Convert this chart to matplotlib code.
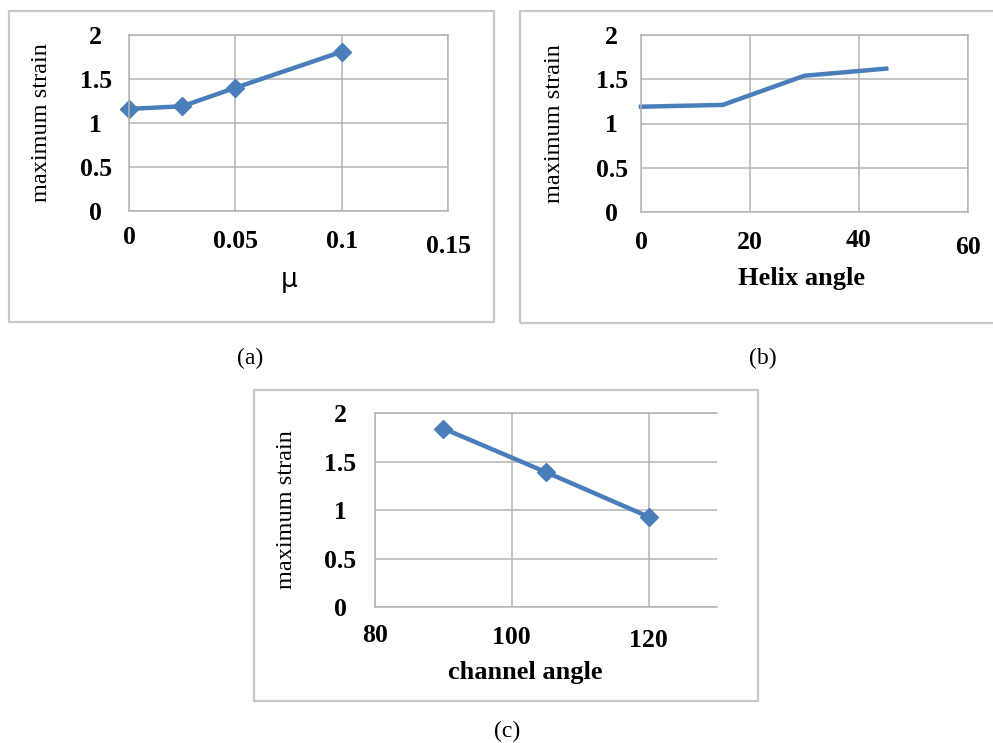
import matplotlib
matplotlib.use("Agg")
import matplotlib.pyplot as plt
from matplotlib.patches import Rectangle

# data
mu = [0, 0.025, 0.05, 0.1]
strain_mu = [1.16, 1.19, 1.40, 1.81]

helix = [0, 15, 30, 45]
strain_helix = [1.19, 1.21, 1.54, 1.62]

channel = [90, 105, 120]
strain_channel = [1.84, 1.39, 0.93]

y_ticks = [0, 0.5, 1, 1.5, 2]
y_labels = ["0", "0.5", "1", "1.5", "2"]

W, H = 993, 743
BLUE = "#4a7ebb"
GRID = "#b4b4b4"
FRAME = "#c8c8c8"
SERIF = "Liberation Serif"

fig = plt.figure(figsize=(W / 100, H / 100), dpi=100)


def box(x0, y0, x1, y1):
    # pixel rect -> figure fraction
    return [x0 / W, 1 - y1 / H, (x1 - x0) / W, (y1 - y0) / H]


def frame(x0, y0, x1, y1):
    r = Rectangle((x0 / W, 1 - y1 / H), (x1 - x0) / W, (y1 - y0) / H,
                  transform=fig.transFigure, fill=False, edgecolor=FRAME,
                  linewidth=1.6, zorder=0)
    fig.add_artist(r)


def setup(ax, xticks, xlabels, xlim, ypad, xpads):
    ax.set_ylim(0, 2)
    ax.set_xlim(*xlim)
    ax.set_yticks(y_ticks)
    ax.set_yticklabels(y_labels, fontfamily=SERIF, fontweight="bold",
                       fontsize=18.5, ha="center")
    ax.set_xticks(xticks)
    ax.set_xticklabels(xlabels, fontfamily=SERIF, fontweight="bold", fontsize=18.5)
    ax.tick_params(length=0)
    ax.tick_params(axis="y", pad=ypad)
    for t, p in zip(ax.xaxis.get_major_ticks(), xpads):
        t.set_pad(p)
    ax.grid(True, color=GRID, linewidth=1.1)
    ax.set_axisbelow(True)
    for s in ax.spines.values():
        s.set_color(GRID)
        s.set_linewidth(1.1)
    ax.set_ylabel("maximum strain", fontfamily=SERIF, fontsize=17.5)


# (a)
frame(9, 11, 494, 322)
ax1 = fig.add_axes(box(129, 35, 448, 211))
ax1.plot(mu, strain_mu, color=BLUE, linewidth=3.2, marker="D", markersize=9,
         clip_on=False)
setup(ax1, [0, 0.05, 0.1, 0.15], ["0", "0.05", "0.1", "0.15"], (0, 0.15),
      24, [11, 14, 14, 17])
ax1.set_xlabel("μ", fontfamily="DejaVu Sans", fontsize=19, va="center")
ax1.xaxis.set_label_coords((289 - 129) / (448 - 129), -(280 - 211) / (211 - 35))
ax1.yaxis.set_label_coords(-(129 - 52) / (448 - 129), 0.5)

# (b)
frame(520, 11, 1005, 323)
ax2 = fig.add_axes(box(641, 35, 968, 212))
ax2.plot(helix, strain_helix, color=BLUE, linewidth=3.2, clip_on=False)
setup(ax2, [0, 20, 40, 60], ["0", "20", "40", "60"], (0, 60),
      21, [14, 14, 12, 17])
ax2.set_xlabel("Helix angle", fontfamily=SERIF, fontweight="bold",
               fontsize=19, va="center")
ax2.xaxis.set_label_coords((802 - 641) / (968 - 641), -(278 - 212) / (212 - 35))
ax2.yaxis.set_label_coords(-(641 - 565) / (968 - 641), 0.5)

# (c)
frame(254, 390, 758, 701)
ax3 = fig.add_axes(box(375, 413, 717, 607))
ax3.plot(channel, strain_channel, color=BLUE, linewidth=3.2, marker="D", markersize=9,
         clip_on=False)
setup(ax3, [80, 100, 120], ["80", "100", "120"], (80, 130),
      25, [12, 14, 16])
ax3.spines["right"].set_visible(False)
ax3.set_xlabel("channel angle", fontfamily=SERIF, fontweight="bold",
               fontsize=19, va="center")
ax3.xaxis.set_label_coords((525 - 375) / (717 - 375), -(673 - 607) / (607 - 413))
ax3.yaxis.set_label_coords(-(375 - 297) / (717 - 375), 0.5)

# captions
for txt, x, y in [("(a)", 250, 358), ("(b)", 763, 358), ("(c)", 507, 731)]:
    fig.text(x / W, 1 - y / H, txt, fontfamily=SERIF, fontsize=17,
             ha="center", va="center")

fig.savefig("out.png", dpi=100)
